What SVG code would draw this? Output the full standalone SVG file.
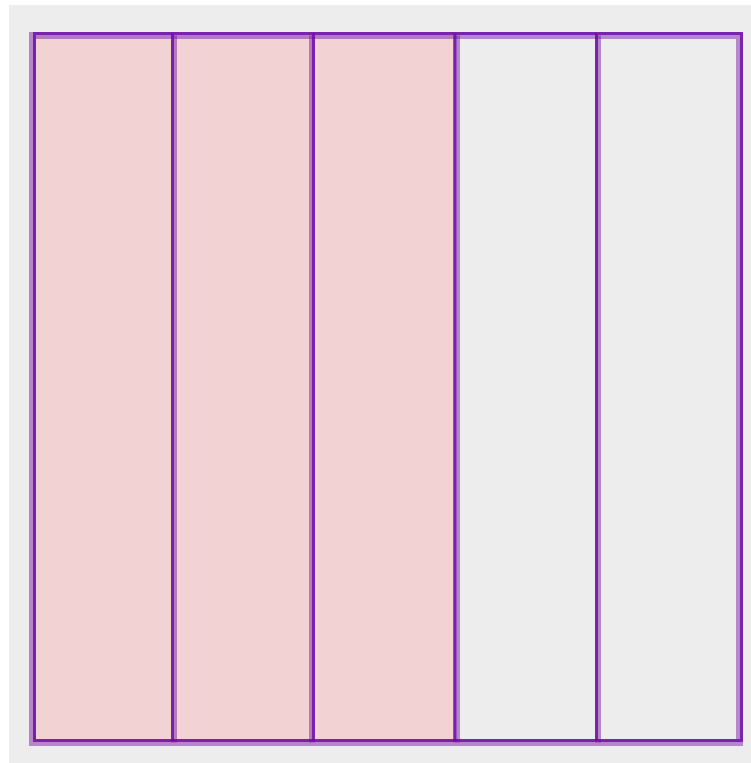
<svg xmlns="http://www.w3.org/2000/svg" width="751" height="763" viewBox="0 0 751 763">
  <style>
    .bg { fill: #ededed; }
    .shaded { fill: #f2d2d2; }
    .empty { fill: #ededed; }
    .thick { fill: none; stroke: #7b1fa8; stroke-opacity: 0.5; stroke-width: 7; }
    .thin { fill: none; stroke: #6a0aa8; stroke-opacity: 0.8; stroke-width: 3; }
  </style>
  <rect class="bg" x="9" y="5" width="742" height="758"/>
  <g id="cell-1"><rect class="shaded" x="33" y="35" width="140" height="707"/></g>
  <g id="cell-2"><rect class="shaded" x="173" y="35" width="140" height="707"/></g>
  <g id="cell-3"><rect class="shaded" x="313" y="35" width="143" height="707"/></g>
  <g id="cell-4"><rect class="empty" x="456" y="35" width="142" height="707"/></g>
  <g id="cell-5"><rect class="empty" x="598" y="35" width="142" height="707"/></g>
  <g id="grid">
    <rect class="thick" x="32.5" y="35.5" width="707" height="707"/>
    <line class="thick" x1="174" y1="35.5" x2="174" y2="742.5" style="stroke-width:6"/>
    <line class="thick" x1="312" y1="35.5" x2="312" y2="742.5" style="stroke-width:6"/>
    <line class="thick" x1="456.5" y1="35.5" x2="456.5" y2="742.5"/>
    <line class="thick" x1="598" y1="35.5" x2="598" y2="742.5" style="stroke-width:6"/>
    <rect class="thin" x="34.5" y="33.5" width="707" height="707"/>
    <line class="thin" x1="172.5" y1="33.5" x2="172.5" y2="740.5"/>
    <line class="thin" x1="313.5" y1="33.5" x2="313.5" y2="740.5"/>
    <line class="thin" x1="455" y1="33.5" x2="455" y2="740.5"/>
    <line class="thin" x1="596.5" y1="33.5" x2="596.5" y2="740.5"/>
  </g>
</svg>
